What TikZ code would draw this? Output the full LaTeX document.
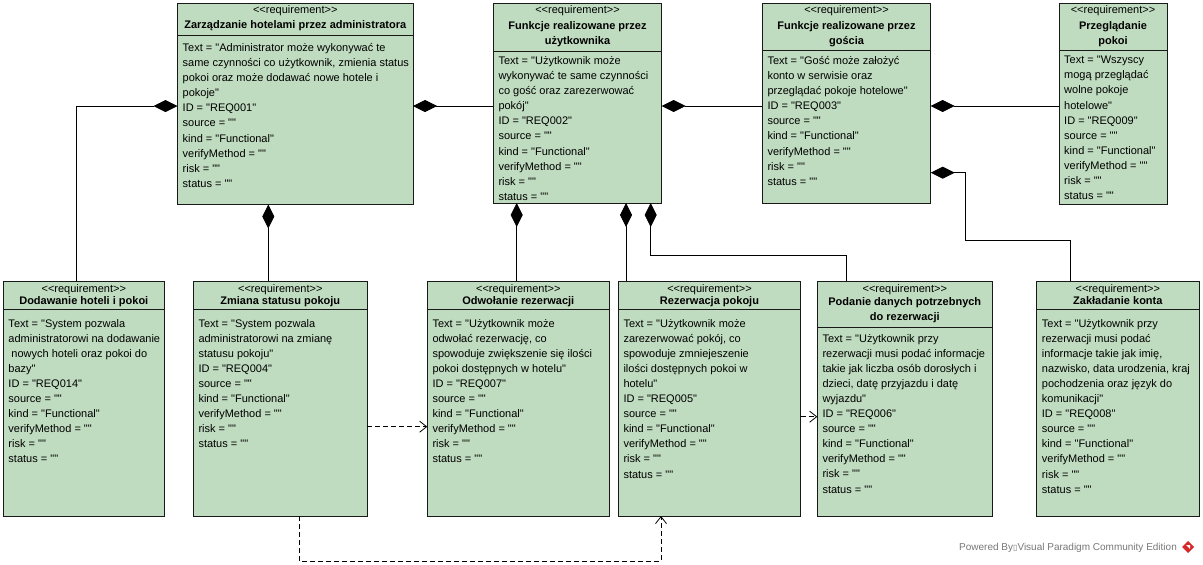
\documentclass[tikz,border=0pt]{standalone}
\usepackage{fontspec}
\newfontfamily\vpfont{Liberation Sans}
\newfontfamily\glyphfont{DejaVu Sans}
\usetikzlibrary{arrows.meta,fit}

\definecolor{reqfill}{RGB}{192,220,192}
\definecolor{markgray}{RGB}{120,120,120}
\definecolor{logored}{RGB}{214,40,40}

\tikzset{
  reqbox/.style={draw=black!90, fill=reqfill, line width=0.8pt, inner sep=0pt, outer sep=0pt},
  divider/.style={draw=black!90, line width=0.8pt},
  stereo/.style={font=\vpfont\fontsize{11}{15}\selectfont, inner sep=0pt, anchor=base},
  reqtitle/.style={font=\vpfont\fontsize{11}{15}\selectfont\bfseries, inner sep=0pt, align=center, anchor=north},
  reqbody/.style={font=\vpfont\fontsize{11}{15.1}\selectfont, inner sep=0pt, align=left, anchor=north west, xshift=5pt},
  comp/.style={draw=black, line width=0.8pt, {Diamond[length=24pt,width=12pt]}-},
  derive/.style={draw=black, line width=0.8pt, dash pattern=on 5pt off 3pt, -{Straight Barb[length=7pt,width=11pt]}},
}

% requirement box: name, left, top, right, bottom, divider y
\newcommand\reqbox[6]{%
  \node[reqbox, fit={(#2,#3) (#4,#5)}] (#1) {};
  \draw[divider] (#1.west |- 0,#6) -- (#1.east |- 0,#6);
}
% requirement texts: name, stereotype y, title y, title, body y, body
\newcommand\reqtext[6]{%
  \node[stereo] (#1-st) at (#1.north |- 0,#2+4.5) {<<requirement>>};
  \node[reqtitle] (#1-ti) at (#1.north |- 0,#3-7) {\strut#4};
  \node[reqbody] (#1-bd) at (#1.west |- 0,#5-7) {\strut#6};
}
\newcommand\reqtail[1]{ID = "#1"\\source = ""\\kind = "Functional"\\verifyMethod = ""\\risk = ""\\status = ""}

\begin{document}
\begin{tikzpicture}[x=1pt,y=-1pt]
\useasboundingbox (0,0) rectangle (1203,565);
\fill[white] (0,0) rectangle (1203,565);

% boxes
\reqbox{admin}{177.5}{3}{413}{204.5}{35}
\reqbox{user}{493.3}{3}{661.7}{203}{51.7}
\reqbox{guest}{762.3}{3}{930.7}{203.5}{50.7}
\reqbox{browse}{1059}{3}{1167}{204}{50}
\reqbox{addhotel}{3.3}{281}{164.3}{516}{309.5}
\reqbox{roomstatus}{193.3}{281}{367.3}{516}{309.5}
\reqbox{cancel}{427.3}{281}{609.3}{516}{309.5}
\reqbox{reserve}{618.3}{281}{800.7}{516}{309.5}
\reqbox{details}{817.3}{281}{992.3}{516}{327.3}
\reqbox{account}{1036.7}{281}{1199}{516}{309.5}

% texts
\reqtext{admin}{9.3}{25}{Zarządzanie hotelami przez administratora}{47.7}
  {Text = "Administrator może wykonywać te\\same czynności co użytkownik, zmienia status\\pokoi oraz może dodawać nowe hotele i\\pokoje"\\\reqtail{REQ001}}
\reqtext{user}{9.3}{26}{Funkcje realizowane przez\\użytkownika}{60.7}
  {Text = "Użytkownik może\\wykonywać te same czynności\\co gość oraz zarezerwować\\pokój"\\\reqtail{REQ002}}
\reqtext{guest}{9}{26}{Funkcje realizowane przez\\gościa}{60.7}
  {Text = "Gość może założyć\\konto w serwisie oraz\\przeglądać pokoje hotelowe"\\\reqtail{REQ003}}
\reqtext{browse}{9.3}{26}{Przeglądanie\\pokoi}{60}
  {Text = "Wszyscy\\mogą przeglądać\\wolne pokoje\\hotelowe"\\\reqtail{REQ009}}
\reqtext{addhotel}{287.7}{300.5}{Dodawanie hoteli i pokoi}{323.3}
  {Text = "System pozwala\\administratorowi na dodawanie\\\hspace*{3pt}nowych hoteli oraz pokoi do\\bazy"\\\reqtail{REQ014}}
\reqtext{roomstatus}{287.7}{300.5}{Zmiana statusu pokoju}{323.3}
  {Text = "System pozwala\\administratorowi na zmianę\\statusu pokoju"\\\reqtail{REQ004}}
\reqtext{cancel}{287.7}{300.5}{Odwołanie rezerwacji}{323.3}
  {Text = "Użytkownik może\\odwołać rezerwację, co\\spowoduje zwiększenie się ilości\\pokoi dostępnych w hotelu"\\\reqtail{REQ007}}
\reqtext{reserve}{287.7}{300.5}{Rezerwacja pokoju}{323.3}
  {Text = "Użytkownik może\\zarezerwować pokój, co\\spowoduje zmniejeszenie\\ilości dostępnych pokoi w\\hotelu"\\\reqtail{REQ005}}
\reqtext{details}{287.7}{301.7}{Podanie danych potrzebnych\\do rezerwacji}{338.3}
  {Text = "Użytkownik przy\\rezerwacji musi podać informacje\\takie jak liczba osób dorosłych i\\dzieci, datę przyjazdu i datę\\wyjazdu"\\\reqtail{REQ006}}
\reqtext{account}{287.7}{300.5}{Zakładanie konta}{323.3}
  {Text = "Użytkownik przy\\rezerwacji musi podać\\informacje takie jak imię,\\nazwisko, data urodzenia, kraj\\pochodzenia oraz język do\\komunikacji"\\\reqtail{REQ008}}

% composition links
\draw[comp] (admin.west |- 0,106) -| (addhotel.north -| 76.7,0);
\draw[comp] (admin.south -| 268.3,0) -- (roomstatus.north -| 268.3,0);
\draw[comp] (admin.east |- 0,106) -- (user.west |- 0,106);
\draw[comp] (user.east |- 0,106) -- (guest.west |- 0,106);
\draw[comp] (guest.east |- 0,106) -- (browse.west |- 0,106);
\draw[comp] (guest.east |- 0,172.7) -| (965,240) -| (account.north -| 1070.7,0);
\draw[comp] (user.south -| 516.7,0) -- (cancel.north -| 516.7,0);
\draw[comp] (user.south -| 626,0) -- (reserve.north -| 626,0);
\draw[comp] (user.south -| 650.7,0) |- (846.7,255) -- (details.north -| 846.7,0);

% dependency links
\draw[derive] (roomstatus.east |- 0,426.7) -- (cancel.west |- 0,426.7);
\draw[derive] (reserve.east |- 0,416.7) -- (details.west |- 0,416.7);
\draw[derive] (roomstatus.south -| 299.3,0) |- (661,561) -- (reserve.south -| 661,0);

% credit line
\node[font=\vpfont\fontsize{10}{12}\selectfont, text=markgray, anchor=base west, inner sep=0pt] (credit) at (959,550.5)
  {Powered By{\glyphfont\fontsize{8}{10}\selectfont ▯}Visual Paradigm Community Edition};
\fill[logored] (1188,541) -- (1194,547) -- (1188,553) -- (1182,547) -- cycle;
\fill[white] (1186,545) -- (1190,545) -- (1190,549) -- cycle;
\end{tikzpicture}
\end{document}
